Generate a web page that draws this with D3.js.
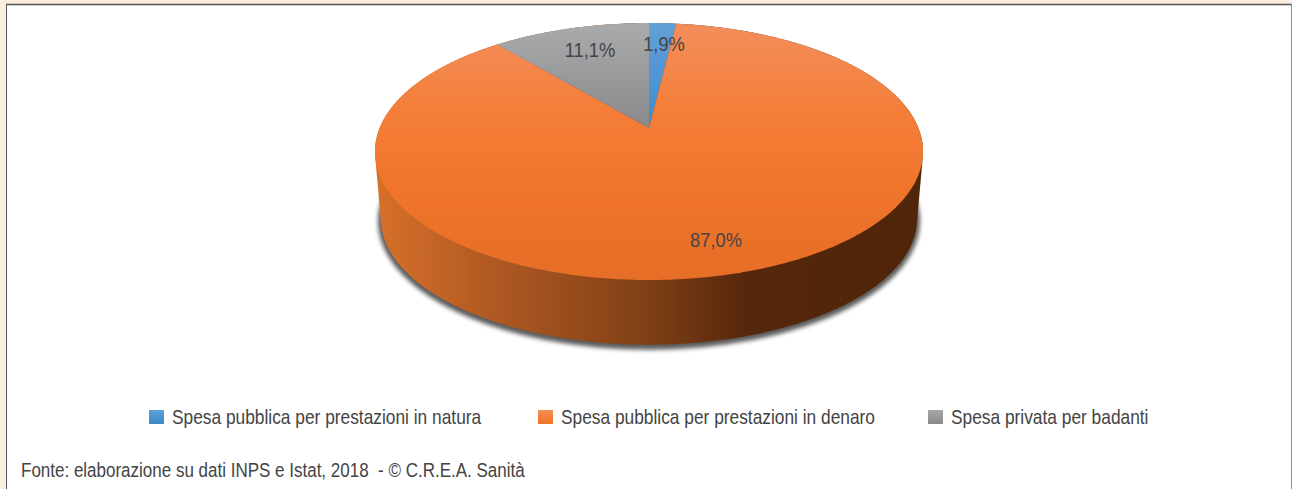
<!DOCTYPE html>
<html><head><meta charset="utf-8">
<script src="https://cdn.jsdelivr.net/npm/d3@7"></script>
<style>html,body{margin:0;padding:0;background:#fff}svg{display:block}
text{font-family:"Liberation Sans",sans-serif;fill:#444}</style>
</head><body><svg id="c" width="1292" height="489"></svg>
<script>
const categories=["Spesa pubblica per prestazioni in natura","Spesa pubblica per prestazioni in denaro","Spesa privata per badanti"];
const values=[1.9,87.0,11.1];
const valueLabels=["1,9%","87,0%","11,1%"];
const footer="Fonte: elaborazione su dati INPS e Istat, 2018  - © C.R.E.A. Sanità";

const svg=d3.select("#c");
const defs=svg.append("defs");
function grad(id,stops,attrs){
  const g=defs.append("linearGradient").attr("id",id).attr("gradientUnits","userSpaceOnUse");
  Object.entries(attrs).forEach(([k,v])=>g.attr(k,v));
  stops.forEach(([o,c])=>g.append("stop").attr("offset",o).attr("stop-color",c));
}
const vert={x1:0,x2:0,y1:23,y2:280};
grad("gBlue",[[0,"#649fd8"],[0.4,"#3f8dcc"]],vert);
grad("gOrange",[[0,"#f38e5c"],[0.35,"#f47e38"],[0.7,"#ef732a"],[1,"#e66e27"]],vert);
grad("gGray",[[0,"#a9abac"],[0.41,"#87898b"]],vert);
grad("gSide",[[0,"#d67029"],[0.2,"#b25a23"],[0.5,"#7f3f16"],[0.68,"#55270b"],[1,"#50250a"]],{x1:378,x2:920,y1:0,y2:0});
const legendRange={x1:0,x2:0,y1:410,y2:424};
grad("lBlue",[[0,"#5f9fd8"],[1,"#3a8ac8"]],legendRange);
grad("lOrange",[[0,"#f58f55"],[1,"#ef7226"]],legendRange);
grad("lGray",[[0,"#a5a7a8"],[1,"#88898b"]],legendRange);
const fills=["url(#gBlue)","url(#gOrange)","url(#gGray)"];
const legendFills=["url(#lBlue)","url(#lOrange)","url(#lGray)"];
defs.append("filter").attr("id","blur").attr("x","-10%").attr("y","-10%").attr("width","120%").attr("height","120%")
  .append("feGaussianBlur").attr("stdDeviation",2.2);

// frame
svg.append("rect").attr("width",1292).attr("height",489).attr("fill","#fdeee0");
svg.append("rect").attr("x",7).attr("y",5).attr("width",1284).attr("height",484).attr("fill","#fff");
svg.append("line").attr("x1",6).attr("x2",1292).attr("y1",4.5).attr("y2",4.5).attr("stroke","#55565a").attr("stroke-width",1.4);
svg.append("line").attr("x1",6.5).attr("x2",6.5).attr("y1",4).attr("y2",489).attr("stroke","#55565a").attr("stroke-width",1);
svg.append("line").attr("x1",1291.5).attr("x2",1291.5).attr("y1",4).attr("y2",489).attr("stroke","#909090").attr("stroke-width",1);

// perspective disc
const k=0.183, ax=649, ay=128, a=124.2, b=269.4;
const project=(t,s=1,dy=0)=>{
  const w=1+k*Math.cos(t);
  return [ax+s*b*Math.sin(t)/w, ay+dy-s*a*Math.cos(t)/w];
};
const rim=(t0,t1,s,dy)=>{
  const n=Math.max(2,Math.ceil((t1-t0)/0.01));
  return d3.range(n+1).map(i=>project(t0+(t1-t0)*i/n,s,dy));
};
const line=d3.line();
const arcs=d3.pie().sort(null).value(d=>d)(values);

const topRim=rim(0,2*Math.PI,1,0), botRim=rim(0,2*Math.PI,0.978,68);
const hull=d3.polygonHull(topRim.concat(botRim));
svg.append("path").attr("d",line(botRim)+"Z").attr("fill","#4a4a4a").attr("stroke","#4a4a4a").attr("stroke-width",6)
  .attr("transform","translate(0,2)").attr("filter","url(#blur)").attr("opacity",0.9);
svg.append("path").attr("d",line(hull)+"Z").attr("fill","url(#gSide)");

svg.append("g").selectAll("path").data(arcs).join("path")
  .attr("d",d=>line([[ax,ay],...rim(d.startAngle,d.endAngle,1,0)])+"Z")
  .attr("fill",(d,i)=>fills[i]);

// condensed text helper: the reference face is narrow, so glyphs are squeezed horizontally
function place(sel,x,y,sx){ return sel.attr("transform",(d,i)=>`translate(${x(d,i)},${y(d,i)}) scale(${sx},1)`); }

// value labels
const labelPos=[[664,51],[716,247],[590,57]];
place(svg.append("g").selectAll("text").data(valueLabels).join("text")
  .attr("text-anchor","middle").attr("font-size",21).text(d=>d),
  (d,i)=>labelPos[i][0],(d,i)=>labelPos[i][1],0.87);

// legend
const swatchX=[149,538,928];
const leg=svg.append("g").selectAll("g").data(categories).join("g");
leg.append("rect").attr("x",(d,i)=>swatchX[i]).attr("y",410).attr("width",15).attr("height",14)
  .attr("fill",(d,i)=>legendFills[i]);
place(leg.append("text").attr("font-size",20.5).text(d=>d),
  (d,i)=>swatchX[i]+23,()=>424,0.846);

place(svg.append("g").selectAll("text").data([footer]).join("text")
  .attr("font-size",19.5).style("white-space","pre").text(d=>d),()=>21,()=>477,0.872);
</script></body></html>
